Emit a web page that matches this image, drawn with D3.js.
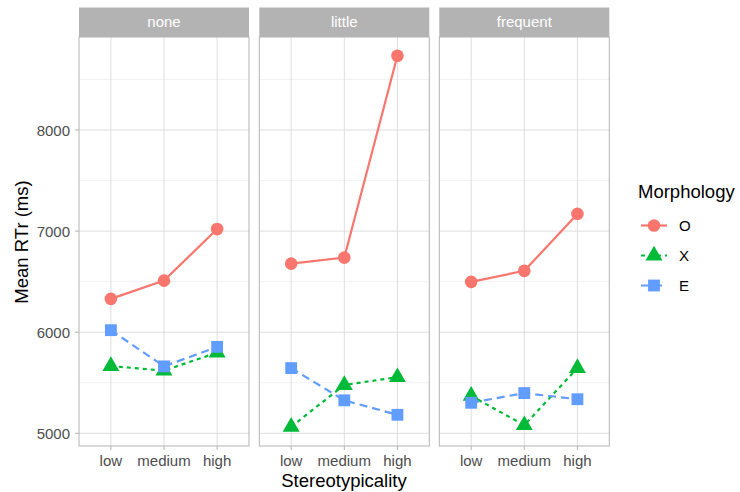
<!DOCTYPE html>
<html>
<head>
<meta charset="utf-8">
<script src="https://cdn.jsdelivr.net/npm/d3@7"></script>
<style>
  body { margin: 0; background: #fff; }
  text { font-family: "Liberation Sans", Arial, sans-serif; }
</style>
</head>
<body>
<div id="chart"></div>
<script>
var panels = ['none', 'little', 'frequent'];
var levels = ['low', 'medium', 'high'];
var morphs = ['O', 'X', 'E'];
var colors = ['#F8766D', '#00BA38', '#619CFF'];
var yTicks = [5000, 6000, 7000, 8000];

// mean RT per panel, by level (low, medium, high)
var valsO = [[6330, 6510, 7020], [6678, 6738, 8735], [6498, 6607, 7170]];
var valsX = [[5665, 5620, 5798], [5065, 5478, 5555], [5370, 5080, 5645]];
var valsE = [[6020, 5662, 5855], [5645, 5326, 5183], [5302, 5398, 5337]];
var series = [valsO, valsX, valsE];

var W = 740, H = 492;
var svg = d3.select('#chart').append('svg')
  .attr('width', W).attr('height', H);

var panelX = [79, 259.3, 439.3];
var panelW = 170;
var plotTop = 37, plotBot = 446, stripTop = 7.5;

var y = d3.scaleLinear().domain([5000, 8000]).range([433.3, 130]);
var yDomTop = y.invert(plotTop), yDomBot = y.invert(plotBot);
var minor = d3.range(4500, 9500, 500).filter(function(v) {
  return v % 1000 != 0 && v > yDomBot && v < yDomTop;
});

var dashes = [null, '4,4', '8,5'];
var shapes = [d3.symbolCircle, d3.symbolTriangle, d3.symbolSquare];
var sizes = [125, 125, 140];

panels.forEach(function(p, pi) {
  var x = d3.scalePoint().domain(levels)
    .range([panelX[pi], panelX[pi] + panelW]).padding(0.6);
  var g = svg.append('g');

  // strip
  g.append('rect').attr('x', panelX[pi]).attr('y', stripTop)
    .attr('width', panelW).attr('height', plotTop - stripTop)
    .attr('fill', '#b3b3b3');
  g.append('text').attr('x', panelX[pi] + panelW / 2).attr('y', (stripTop + plotTop) / 2 + 5)
    .attr('text-anchor', 'middle').attr('fill', '#fff').style('font-size', '15px')
    .text(p);

  // grid
  g.selectAll('.minor').data(minor).enter().append('line')
    .attr('x1', panelX[pi]).attr('x2', panelX[pi] + panelW)
    .attr('y1', y).attr('y2', y)
    .attr('stroke', '#ebebeb').attr('stroke-width', 0.7);
  g.selectAll('.major').data(yTicks).enter().append('line')
    .attr('x1', panelX[pi]).attr('x2', panelX[pi] + panelW)
    .attr('y1', y).attr('y2', y)
    .attr('stroke', '#dedede').attr('stroke-width', 1);
  g.selectAll('.vmajor').data(levels).enter().append('line')
    .attr('x1', x).attr('x2', x)
    .attr('y1', plotTop).attr('y2', plotBot)
    .attr('stroke', '#dedede').attr('stroke-width', 1);

  // x axis
  g.selectAll('.xt').data(levels).enter().append('line')
    .attr('x1', x).attr('x2', x).attr('y1', plotBot).attr('y2', plotBot + 4)
    .attr('stroke', '#b3b3b3');
  g.selectAll('.xl').data(levels).enter().append('text')
    .attr('x', x).attr('y', plotBot + 20)
    .attr('text-anchor', 'middle').attr('fill', '#4d4d4d').style('font-size', '15px')
    .text(function(d) { return d; });

  // lines and points
  series.forEach(function(s, si) {
    var pts = s[pi].map(function(v, i) { return [x(levels[i]), y(v)]; });
    g.append('path').attr('d', d3.line()(pts))
      .attr('fill', 'none').attr('stroke', colors[si]).attr('stroke-width', 2.2)
      .attr('stroke-dasharray', dashes[si]);
    g.selectAll('.pt' + si).data(pts).enter().append('path')
      .attr('transform', function(d) { return 'translate(' + d[0] + ',' + d[1] + ')'; })
      .attr('d', d3.symbol().type(shapes[si]).size(sizes[si]))
      .attr('fill', colors[si]);
  });

  // border
  g.append('rect').attr('x', panelX[pi]).attr('y', plotTop)
    .attr('width', panelW).attr('height', plotBot - plotTop)
    .attr('fill', 'none').attr('stroke', '#b3b3b3').attr('stroke-width', 1);
});

// y axis
var ya = svg.append('g');
ya.selectAll('line').data(yTicks).enter().append('line')
  .attr('x1', 75).attr('x2', 79).attr('y1', y).attr('y2', y)
  .attr('stroke', '#b3b3b3');
ya.selectAll('text').data(yTicks).enter().append('text')
  .attr('x', 70).attr('y', function(d) { return y(d) + 5.5; })
  .attr('text-anchor', 'end').attr('fill', '#4d4d4d').style('font-size', '15px')
  .text(function(d) { return d; });

svg.append('text').attr('transform', 'translate(28,242) rotate(-90)')
  .attr('text-anchor', 'middle').style('font-size', '18.5px').attr('fill', '#000')
  .text('Mean RTr (ms)');
svg.append('text').attr('x', 344).attr('y', 487)
  .attr('text-anchor', 'middle').style('font-size', '18.5px').attr('fill', '#000')
  .text('Stereotypicality');

// legend
var lg = svg.append('g');
lg.append('text').attr('x', 638).attr('y', 198).style('font-size', '18.5px')
  .attr('fill', '#000').text('Morphology');
morphs.forEach(function(m, i) {
  var ly = 225.5 + i * 30;
  lg.append('line').attr('x1', 641).attr('x2', 667).attr('y1', ly).attr('y2', ly)
    .attr('stroke', colors[i]).attr('stroke-width', 2.2)
    .attr('stroke-dasharray', dashes[i]);
  lg.append('path').attr('transform', 'translate(654,' + ly + ')')
    .attr('d', d3.symbol().type(shapes[i]).size(sizes[i]))
    .attr('fill', colors[i]);
  lg.append('text').attr('x', 679).attr('y', ly + 5.5).style('font-size', '15px')
    .attr('fill', '#000').text(m);
});
</script>
</body>
</html>
